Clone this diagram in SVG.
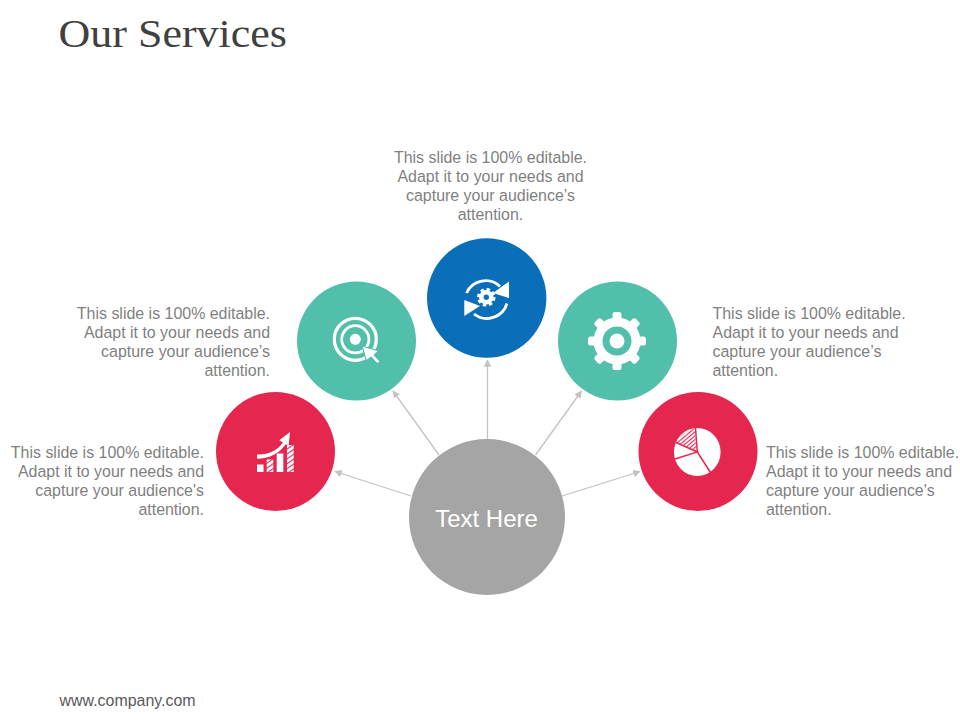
<svg xmlns="http://www.w3.org/2000/svg" width="960" height="720" viewBox="0 0 960 720">
<style>
.t{font-family:"Liberation Sans",Arial,sans-serif;font-size:15.95px;fill:#7f7f7f}
.e{text-anchor:end}.m{text-anchor:middle}
.c{stroke:#c3c3c3;stroke-width:1.3;fill:none;marker-end:url(#a)}
.r{fill:#e5274f}.g{fill:#52bfab}.b{fill:#0a6fb8}
.w{fill:#fff}
</style>
<defs>
<marker id="a" viewBox="0 0 10 10" refX="9" refY="5" markerWidth="7.5" markerHeight="7.5" markerUnits="userSpaceOnUse" orient="auto"><path d="M0 0L10 5L0 10Z" fill="#c3c3c3"/></marker>
<pattern id="h" width="3" height="3" patternUnits="userSpaceOnUse" patternTransform="rotate(-40)"><rect width="3" height="3" fill="#fff"/><rect width="3" height="1.100" fill="#e5274f"/></pattern>
<pattern id="s" width="4" height="4" patternUnits="userSpaceOnUse" patternTransform="rotate(-35)"><rect width="4" height="4" fill="#fff"/><rect width="4" height="1.100" fill="#e5274f"/></pattern>
<rect id="tooth" x="-4.500" y="-29" width="9" height="10" rx="2.500" fill="#fff"/>
</defs>
<rect width="960" height="720" fill="#fff"/>
<text x="58.500" y="47" font-family="'Liberation Serif',serif" font-size="41" fill="#404040" textLength="228.500" lengthAdjust="spacingAndGlyphs">Our Services</text>
<text x="59.500" y="706" font-family="'Liberation Sans',Arial,sans-serif" font-size="15.950" fill="#595959">www.company.com</text>
<g id="connectors">
<path class="c" d="M411 496L335 471.500"/>
<path class="c" d="M439 455L393 391"/>
<path class="c" d="M487.500 439V360"/>
<path class="c" d="M535.500 455L581.500 391"/>
<path class="c" d="M562 496L640 471.500"/>
</g>
<g id="node-center"><circle cx="487" cy="517" r="78" fill="#a5a5a5"/><text x="486.500" y="527" class="m" font-family="'Liberation Sans',Arial,sans-serif" font-size="24" fill="#fff">Text Here</text></g>
<g id="node-chart">
<circle class="r" cx="275.500" cy="451.500" r="59.500"/>
<rect x="257" y="464.500" width="6.500" height="7.500" class="w"/>
<rect x="266.700" y="459.500" width="6.600" height="12.500" fill="url(#s)"/>
<rect x="276.700" y="453.500" width="6.600" height="18.500" class="w"/>
<rect x="287" y="445" width="6.700" height="27" fill="url(#s)"/>
<path class="w" d="M257 454.500C268 455 277 451 283 442.500L279.300 440.300L290 432L288.700 445L285.500 444.500C279 454 269 458.500 257 458.800Z"/>
</g>
<g id="node-target">
<circle class="g" cx="356.500" cy="341" r="59.500"/>
<circle cx="355.300" cy="339.300" r="21" fill="none" stroke="#fff" stroke-width="3.200"/>
<circle cx="355.300" cy="339.300" r="13.600" fill="none" stroke="#fff" stroke-width="2.800"/>
<circle cx="355.300" cy="339.300" r="5.500" class="w"/>
<path d="M362 346L378.700 351L374.300 355L380.300 361.700L377 363.700L371 357L366.300 361Z" class="w" stroke="#52bfab" stroke-width="1.200"/>
</g>
<g id="node-sync">
<circle class="b" cx="486.700" cy="298" r="59.700"/>
<path d="M466.500 293A21 21 0 0 1 500 286.500M507 303.500A21 21 0 0 1 474 314" fill="none" stroke="#fff" stroke-width="2.800"/>
<path class="w" d="M509 281.500V298L493 293ZM464.300 300V316L480 306Z"/>
<circle cx="486.300" cy="297.300" r="5" fill="none" stroke="#fff" stroke-width="4.600"/>
<circle cx="486.300" cy="297.300" r="7.600" fill="none" stroke="#fff" stroke-width="3.400" stroke-dasharray="3.300 2.670"/>
</g>
<g id="node-gear">
<circle class="g" cx="617.500" cy="341" r="59.500"/>
<g transform="translate(617 341)">
<use href="#tooth"/><use href="#tooth" transform="rotate(45)"/><use href="#tooth" transform="rotate(90)"/><use href="#tooth" transform="rotate(135)"/><use href="#tooth" transform="rotate(180)"/><use href="#tooth" transform="rotate(225)"/><use href="#tooth" transform="rotate(270)"/><use href="#tooth" transform="rotate(315)"/>
</g>
<circle cx="617" cy="341" r="23.500" class="w"/>
<circle cx="617" cy="341" r="14.500" class="g"/>
<circle cx="617" cy="341" r="7.500" class="w"/>
</g>
<g id="node-pie">
<circle class="r" cx="698" cy="451.500" r="59.500"/>
<ellipse cx="697.300" cy="452" rx="23.300" ry="24" class="w"/>
<path d="M696.300 451.500L695 428.500C688 430 680.500 435 676 443Z" fill="url(#h)"/>
<path d="M695.500 428L697.300 452L710.500 472.500M676 442.500L697.300 452L675 459" fill="none" stroke="#e5274f" stroke-width="1.500"/>
</g>
<g id="label-1"><text class="t e"><tspan x="204" y="458">This slide is 100% editable.</tspan><tspan x="204" y="477">Adapt it to your needs and</tspan><tspan x="204" y="496">capture your audience's</tspan><tspan x="204" y="515">attention.</tspan></text></g>
<g id="label-2"><text class="t e"><tspan x="270" y="319">This slide is 100% editable.</tspan><tspan x="270" y="338">Adapt it to your needs and</tspan><tspan x="270" y="357">capture your audience’s</tspan><tspan x="270" y="376">attention.</tspan></text></g>
<g id="label-3"><text class="t m"><tspan x="490.500" y="163">This slide is 100% editable.</tspan><tspan x="490.500" y="182">Adapt it to your needs and</tspan><tspan x="490.500" y="201">capture your audience’s</tspan><tspan x="490.500" y="220">attention.</tspan></text></g>
<g id="label-4"><text class="t"><tspan x="712.500" y="319">This slide is 100% editable.</tspan><tspan x="712.500" y="338">Adapt it to your needs and</tspan><tspan x="712.500" y="357">capture your audience’s</tspan><tspan x="712.500" y="376">attention.</tspan></text></g>
<g id="label-5"><text class="t"><tspan x="766" y="458">This slide is 100% editable.</tspan><tspan x="766" y="477">Adapt it to your needs and</tspan><tspan x="766" y="496">capture your audience's</tspan><tspan x="766" y="515">attention.</tspan></text></g>
</svg>
